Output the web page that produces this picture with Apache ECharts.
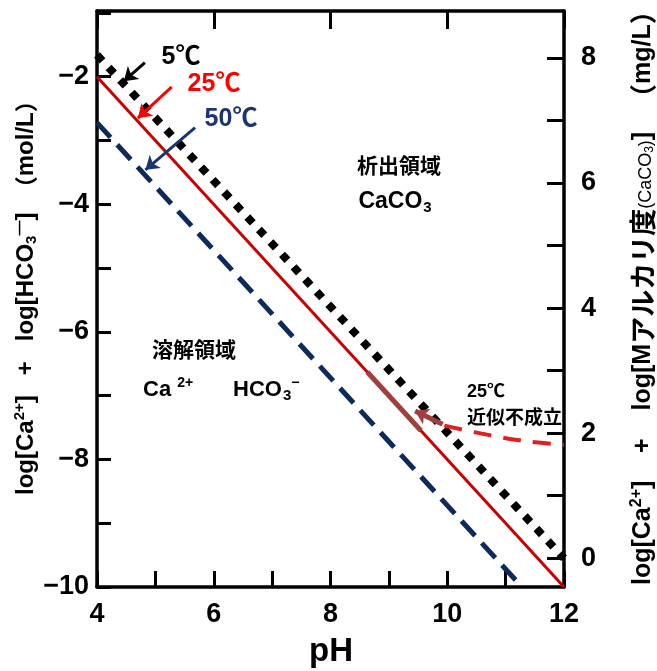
<!DOCTYPE html>
<html>
<head>
<meta charset="utf-8">
<script src="https://cdn.jsdelivr.net/npm/echarts@6/dist/echarts.min.js"></script>
<style>
  html, body { margin: 0; padding: 0; background: #fff; }
  #chart { width: 657px; height: 671px; }
</style>
</head>
<body>
<div id="chart"></div>
<script>
  // 溶解度線 (pH, log値)
  var pH5 = [4, 12];
  var val5 = [-1.66, -9.55];
  var pH25 = [4, 12];
  var val25 = [-2, -10];
  var pH50 = [4, 11.28];
  var val50 = [-2.72, -10];
  // 25℃ 近似不成立の曲線
  var pHdev = [9.95, 10.4, 10.9, 11.4, 12];
  var valDev = [-7.47, -7.56, -7.65, -7.72, -7.77];
  var pHseg = [8.63, 9.55];
  var valSeg = [-6.63, -7.55];

  // 目盛り
  var xLabels = [4, 6, 8, 10, 12];
  var yLabels = [-10, -8, -6, -4, -2];
  var rightTicks = [0, 1, 2, 3, 4, 5, 6, 7, 8];
  var rightLabels = [0, 2, 4, 6, 8];

  // 注釈の矢印 [始点, 終点]
  var arrow5 = [[4.82, -1.78], [4.46, -2.07]];
  var arrow25 = [[5.28, -2.16], [4.70, -2.65]];
  var arrow50 = [[5.68, -2.80], [4.83, -3.46]];
  var arrowDev = [[9.92, -7.45], [9.45, -7.24]];

  function pairs(xs, ys) {
    return xs.map(function (x, i) { return [x, ys[i]]; });
  }

  var numFont = 'Liberation Sans';
  var jpFont = '"Noto Sans CJK JP"';
  var chart = echarts.init(document.getElementById('chart'));

  var axisLine = { show: true, onZero: false, lineStyle: { color: '#000', width: 3.5 } };

  // rich text のスタイル
  function tok(size, extra) {
    var o = { fontSize: size, fontFamily: numFont, fontWeight: 'bold', fill: '#000' };
    for (var k in extra) o[k] = extra[k];
    return o;
  }

  chart.setOption({
    animation: false,
    grid: { left: 97, right: 93, top: 11, bottom: 84 },
    xAxis: [
      {
        type: 'value', min: 4, max: 12, interval: 1,
        axisLine: axisLine,
        axisTick: { inside: true, length: 16, lineStyle: { width: 3, color: '#000' } },
        splitLine: { show: false },
        axisLabel: {
          margin: 14, color: '#000', fontFamily: numFont, fontWeight: 'bold', fontSize: 27,
          formatter: function (v) { return xLabels.indexOf(v) >= 0 ? String(v) : ''; }
        }
      },
      {
        type: 'value', position: 'top', min: 4, max: 12, interval: 2,
        axisLine: axisLine,
        axisTick: { inside: true, length: 18, lineStyle: { width: 3, color: '#000' } },
        splitLine: { show: false },
        axisLabel: { show: false }
      }
    ],
    yAxis: [
      {
        type: 'value', min: -10, max: -0.97, interval: 1,
        axisLine: axisLine,
        axisTick: { inside: true, length: 14, lineStyle: { width: 3, color: '#000' } },
        splitLine: { show: false },
        axisLabel: {
          margin: 8, color: '#000', fontFamily: numFont, fontWeight: 'bold', fontSize: 27,
          formatter: function (v) {
            return yLabels.indexOf(v) >= 0 ? '\u2212' + Math.abs(v) : '';
          }
        }
      },
      {
        type: 'value', position: 'right', min: -0.46, max: 8.75,
        axisLine: axisLine,
        axisTick: { inside: true, length: 17, customValues: rightTicks, lineStyle: { width: 3, color: '#000' } },
        splitLine: { show: false },
        axisLabel: {
          margin: 17, color: '#000', fontFamily: numFont, fontWeight: 'bold', fontSize: 27,
          customValues: rightLabels
        }
      }
    ],
    series: [
      {
        name: '50℃', type: 'line', data: pairs(pH50, val50), symbol: 'none',
        lineStyle: { color: '#0d2a5e', width: 5, type: [20, 10], cap: 'butt' }
      },
      {
        name: '25℃', type: 'line', data: pairs(pH25, val25), symbol: 'none',
        lineStyle: { color: '#c80000', width: 3 }
      },
      {
        name: 'seg', type: 'line', data: pairs(pHseg, valSeg), symbol: 'none',
        lineStyle: { color: '#a0403c', width: 5 }
      },
      {
        name: '5℃', type: 'line', data: pairs(pH5, val5), symbol: 'none',
        lineStyle: { color: '#000', width: 8, type: [8, 9], cap: 'butt' }
      },
      {
        name: 'dev', type: 'line', data: pairs(pHdev, valDev), symbol: 'none', smooth: 0.4,
        lineStyle: { color: '#e02020', width: 4, type: [18, 12], cap: 'butt' }
      },
      {
        type: 'lines', coordinateSystem: 'cartesian2d', z: 5,
        symbol: ['none', 'arrow'], symbolSize: 13,
        data: [
          { coords: arrow5, lineStyle: { color: '#000', width: 3, opacity: 1 } },
          { coords: arrow25, lineStyle: { color: '#ff0000', width: 3, opacity: 1 } },
          { coords: arrow50, lineStyle: { color: '#1a3570', width: 3, opacity: 1 } },
          { coords: arrowDev, lineStyle: { color: '#a0403c', width: 5, opacity: 1 } }
        ]
      }
    ],
    graphic: [
      { type: 'text', x: 181, y: 57, style: { text: '5℃', fill: '#000', font: 'bold 25px ' + numFont + ',' + jpFont, align: 'center', verticalAlign: 'middle' } },
      { type: 'text', x: 214, y: 84, style: { text: '25℃', fill: '#ff0000', font: 'bold 25px ' + numFont + ',' + jpFont, align: 'center', verticalAlign: 'middle' } },
      { type: 'text', x: 231, y: 119, style: { text: '50℃', fill: '#1a3570', font: 'bold 25px ' + numFont + ',' + jpFont, align: 'center', verticalAlign: 'middle' } },
      { type: 'text', x: 399, y: 165, style: { text: '析出領域', fill: '#000', font: 'bold 21px ' + jpFont, align: 'center', verticalAlign: 'middle' } },
      {
        type: 'text', x: 395, y: 202,
        style: {
          text: '{a|CaCO}{sub|3}', align: 'center', verticalAlign: 'middle',
          rich: { a: tok(23), sub: tok(15, { padding: [11, 0, 0, 1] }) }
        }
      },
      { type: 'text', x: 194, y: 349, style: { text: '溶解領域', fill: '#000', font: 'bold 21px ' + jpFont, align: 'center', verticalAlign: 'middle' } },
      {
        type: 'text', x: 143, y: 390,
        style: {
          text: '{a|Ca }{sup|2+}', align: 'left', verticalAlign: 'middle',
          rich: { a: tok(22), sup: tok(14, { padding: [0, 0, 13, 0] }) }
        }
      },
      {
        type: 'text', x: 233, y: 390,
        style: {
          text: '{a|HCO}{sub|3}{sup|\u2212}', align: 'left', verticalAlign: 'middle',
          rich: {
            a: tok(22),
            sub: tok(15, { padding: [11, 0, 0, 1] }),
            sup: tok(14, { padding: [0, 0, 13, 0] })
          }
        }
      },
      { type: 'text', x: 467, y: 392, style: { text: '25℃', fill: '#000', font: 'bold 18px ' + numFont + ',' + jpFont, align: 'left', verticalAlign: 'middle' } },
      { type: 'text', x: 467, y: 417, style: { text: '近似不成立', fill: '#000', font: 'bold 19px ' + jpFont, align: 'left', verticalAlign: 'middle' } },
      { type: 'text', x: 331, y: 652, style: { text: 'pH', fill: '#000', font: 'bold 33px ' + numFont, align: 'center', verticalAlign: 'middle' } },
      {
        type: 'text', x: 26, y: 495, rotation: Math.PI / 2,
        style: {
          text: '{a|log[Ca}{sup|2+}{a|]   +   log[HCO}{sub|3}{sup|\u2014}{a|]  }{j|（}{a|mol/L}{j|）}',
          align: 'left', verticalAlign: 'middle',
          rich: {
            a: tok(24),
            sup: tok(15, { padding: [0, 0, 13, 0] }),
            sub: tok(15, { padding: [11, 0, 0, 0] }),
            j: tok(23, { fontFamily: jpFont })
          }
        }
      },
      {
        type: 'text', x: 643, y: 585, rotation: Math.PI / 2,
        style: {
          text: '{a|log[Ca}{sup|2+}{a|]    +    log[M}{j|アルカリ度}{s|(CaCO}{ss|3}{s|)}{a|]   }{j|（}{a|mg/L}{j|）}',
          align: 'left', verticalAlign: 'middle',
          rich: {
            a: tok(25),
            sup: tok(16, { padding: [0, 0, 13, 0] }),
            s: tok(18, { padding: [7, 0, 0, 0], fontWeight: 'normal' }),
            ss: tok(12, { padding: [13, 0, 0, 0], fontWeight: 'normal' }),
            j: tok(27, { fontFamily: jpFont })
          }
        }
      }
    ]
  });
</script>
</body>
</html>
